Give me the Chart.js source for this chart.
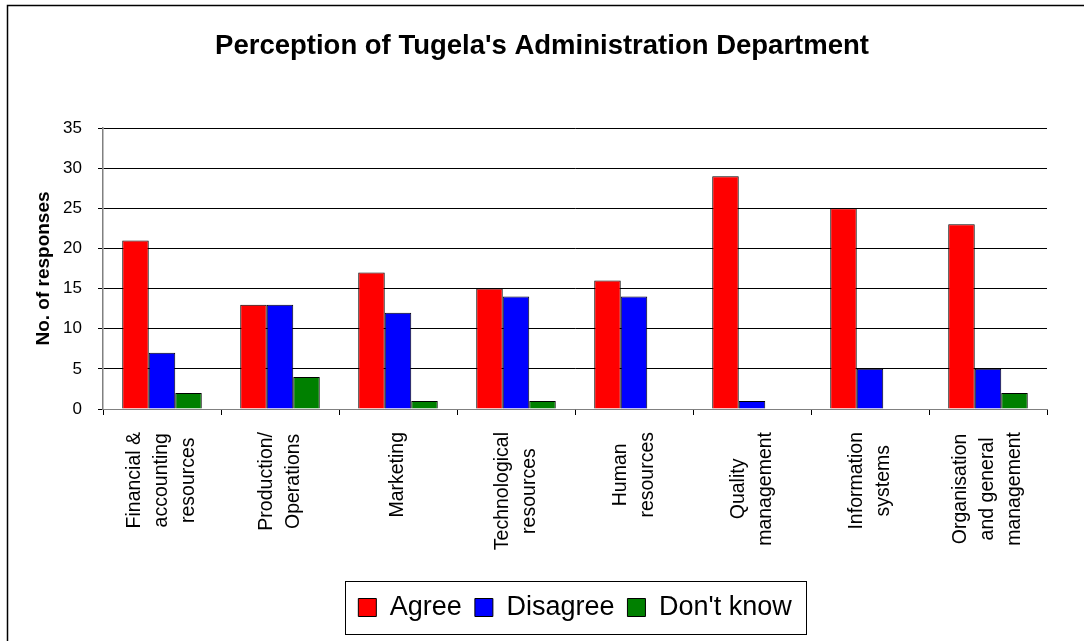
<!DOCTYPE html>
<html>
<head>
<meta charset="utf-8">
<script src="https://cdn.jsdelivr.net/npm/chart.js@4/dist/chart.umd.min.js"></script>
<style>
	body { margin: 0; background: #fff; }
	#wrap { width: 1084px; height: 641px; }
</style>
</head>
<body>
<div id="wrap"><canvas id="myChart" width="1084" height="641"></canvas></div>
<script>
// categories (line breaks as in the original axis labels)
const categories = [
	['Financial &', 'accounting', 'resources'],
	['Production/', 'Operations'],
	['Marketing'],
	['Technological', 'resources'],
	['Human', 'resources'],
	['Quality', 'management'],
	['Information', 'systems'],
	['Organisation', 'and general', 'management']
];
const agree = [21, 13, 17, 15, 16, 29, 25, 23];
const disagree = [7, 13, 12, 14, 14, 1, 5, 5];
const dontKnow = [2, 4, 1, 1, 0, 0, 0, 2];
const yTicks = [0, 5, 10, 15, 20, 25, 30, 35];

const FONT = '"Liberation Sans", Arial, sans-serif';
Chart.defaults.font.family = FONT;
Chart.defaults.color = '#000';

// x labels: rotated, lines centred on each other, block hanging from the axis
const xLabels = {
	id: 'xLabels',
	afterDraw(chart) {
		const ctx = chart.ctx;
		const xs = chart.scales.x;
		ctx.save();
		ctx.font = '19.5px ' + FONT;
		ctx.fillStyle = '#000';
		ctx.textAlign = 'center';
		ctx.textBaseline = 'middle';
		categories.forEach((lines, i) => {
			const cx = xs.getPixelForValue(i);
			const maxW = Math.max(...lines.map(l => ctx.measureText(l).width));
			const cy = xs.top + 23 + maxW / 2;
			lines.forEach((line, j) => {
				ctx.save();
				ctx.translate(cx + (j - (lines.length - 1) / 2) * 27, cy);
				ctx.rotate(-Math.PI / 2);
				ctx.fillText(line, 0, 0);
				ctx.restore();
			});
		});
		ctx.restore();
	}
};

// frame round the whole chart and box round the legend
const frames = {
	id: 'frames',
	afterDraw(chart) {
		const ctx = chart.ctx;
		ctx.save();
		ctx.strokeStyle = '#000';
		ctx.lineWidth = 1.5;
		ctx.beginPath();
		ctx.moveTo(7.5, 641);
		ctx.lineTo(7.5, 5.5);
		ctx.lineTo(1084, 5.5);
		ctx.stroke();

		const hb = chart.legend.legendHitBoxes;
		if (hb && hb.length) {
			const first = hb[0], last = hb[hb.length - 1];
			const l = Math.round(first.left - 13) + 0.5;
			const r = Math.round(last.left + last.width + 14) + 0.5;
			const t = Math.round(first.top - 13) + 0.5;
			const b = Math.round(first.top + first.height + 13) + 0.5;
			ctx.lineWidth = 1;
			ctx.strokeRect(l, t, r - l, b - t);
		}
		ctx.restore();
	}
};

const myChart = new Chart(document.getElementById('myChart'), {
	type: 'bar',
	data: {
		labels: categories,
		datasets: [
			{ label: 'Agree', data: agree, backgroundColor: '#ff0000' },
			{ label: 'Disagree', data: disagree, backgroundColor: '#0000ff' },
			{ label: "Don't know", data: dontKnow, backgroundColor: '#008000' }
		]
	},
	options: {
		responsive: false,
		animation: false,
		layout: { padding: { top: 8, left: 0, right: 0, bottom: 10 } },
		datasets: {
			bar: {
				borderColor: '#000',
				borderWidth: 1,
				categoryPercentage: 0.674,
				barPercentage: 1.0
			}
		},
		plugins: {
			title: {
				display: true,
				text: "Perception of Tugela's Administration Department",
				color: '#000',
				font: { size: 27.5, weight: 'bold' },
				padding: { top: 22, bottom: 65 }
			},
			legend: {
				position: 'bottom',
				fullSize: false,
				labels: {
					font: { size: 27 },
					color: '#000',
					boxWidth: 18,
					boxHeight: 18,
					padding: 13
				}
			},
			tooltip: { enabled: false }
		},
		scales: {
			x: {
				ticks: { display: false },
				grid: {
					drawOnChartArea: false,
					drawTicks: true,
					tickLength: 6,
					color: '#000'
				},
				border: { color: '#808080', width: 1 },
				afterFit: (scale) => { scale.height = 172; }
			},
			y: {
				min: 0,
				max: 35,
				afterBuildTicks: (scale) => { scale.ticks = yTicks.map(v => ({ value: v })); },
				ticks: {
					font: { size: 17 },
					color: '#000',
					padding: 16
				},
				grid: { color: '#000', lineWidth: 1, tickLength: 5 },
				border: { color: '#808080', width: 1.5 },
				title: {
					display: true,
					text: 'No. of responses',
					color: '#000',
					font: { size: 19, weight: 'bold' },
					padding: { top: 32, bottom: 0 }
				},
				afterFit: (scale) => { scale.width = 103; }
			},
			// empty right-hand margin so the title centres on the whole page
			yRight: {
				position: 'right',
				ticks: { display: false },
				grid: { display: false },
				border: { display: false },
				afterFit: (scale) => { scale.width = 37; }
			}
		}
	},
	plugins: [xLabels, frames]
});
</script>
</body>
</html>
